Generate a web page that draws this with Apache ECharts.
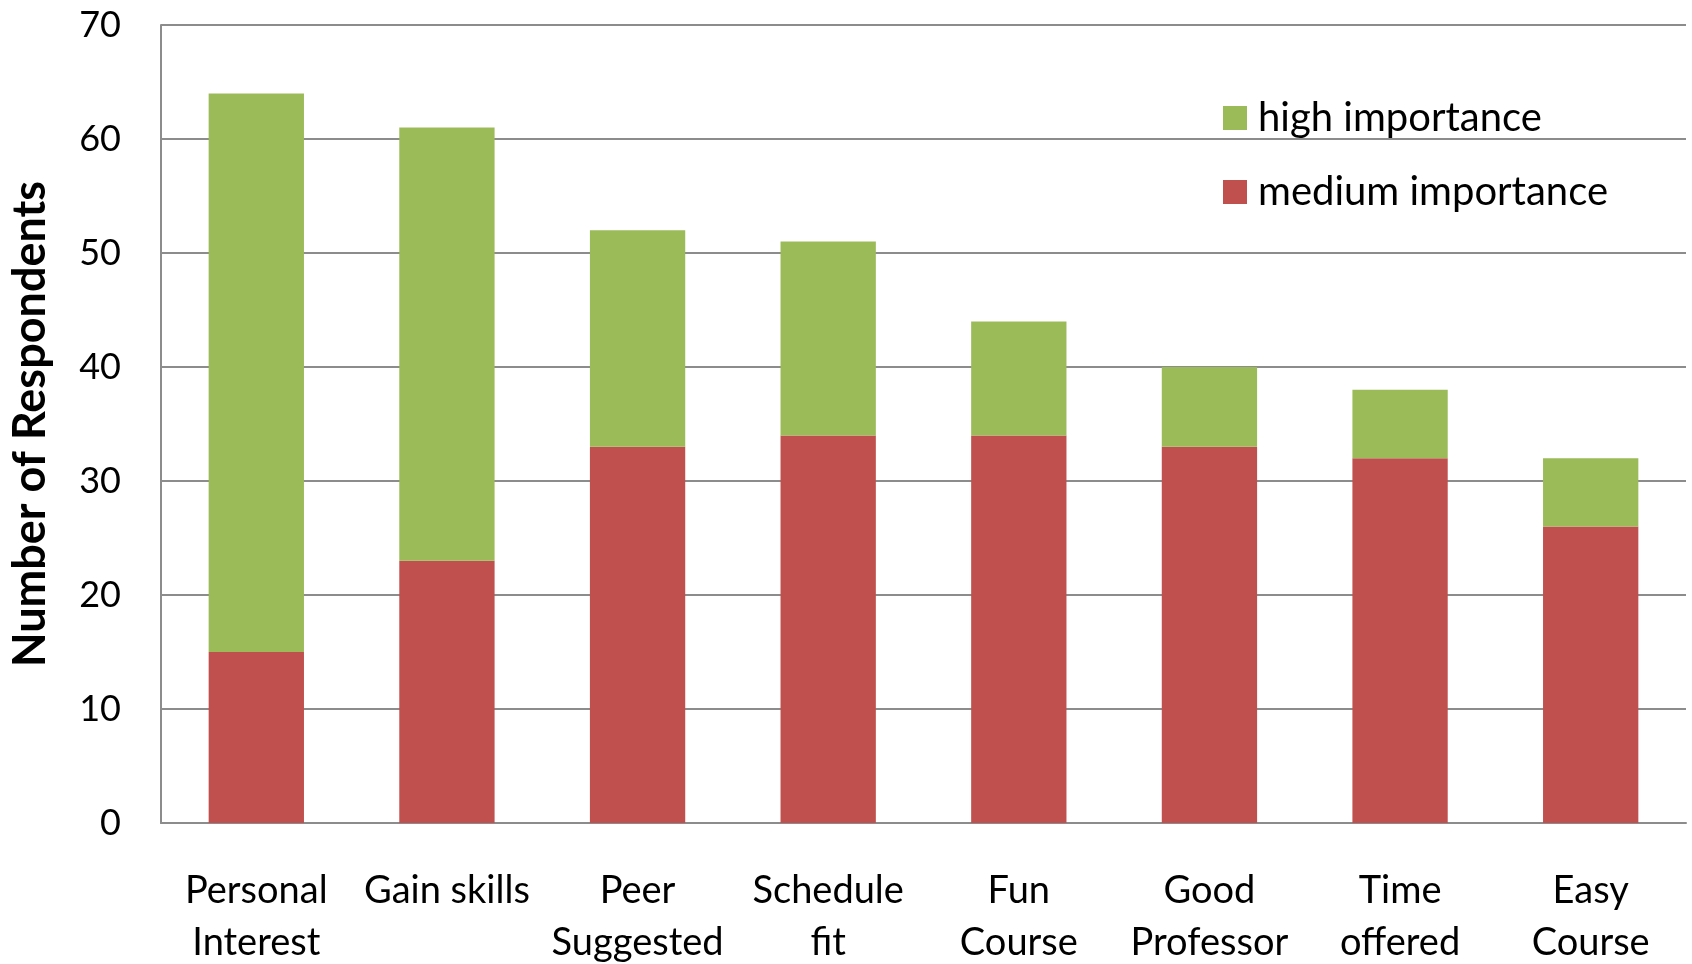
<!DOCTYPE html>
<html>
<head>
<meta charset="utf-8">
<script src="https://cdn.jsdelivr.net/npm/echarts@6/dist/echarts.min.js"></script>
<style>
html,body{margin:0;padding:0;background:#fff;}
#chart{width:1692px;height:964px;}
</style>
</head>
<body>
<div id="chart"></div>
<script>
const categories = ["Personal\nInterest", "Gain skills", "Peer\nSuggested", "Schedule\nfit", "Fun\nCourse", "Good\nProfessor", "Time\noffered", "Easy\nCourse"];
const mediumImportance = [15, 23, 33, 34, 34, 33, 32, 26];
const highImportance = [49, 38, 19, 17, 10, 7, 6, 6];
const yTicks = [0, 10, 20, 30, 40, 50, 60, 70];

const FONT = 'Lato';
const chart = echarts.init(document.getElementById('chart'), null, {renderer: 'canvas'});
chart.setOption({
  animation: false,
  backgroundColor: '#ffffff',
  grid: {left: 161, right: 6, top: 25, bottom: 141, containLabel: false, outerBoundsMode: 'none'},
  legend: {
    orient: 'vertical',
    left: 1218,
    top: 91,
    itemWidth: 24,
    itemHeight: 24,
    itemGap: 30,
    icon: 'rect',
    data: ['high importance', 'medium importance'],
    textStyle: {fontFamily: FONT, fontSize: 40, color: '#000', lineHeight: 44, padding: [0, 0, 0, 6]}
  },
  xAxis: {
    type: 'category',
    data: categories,
    axisLine: {show: true, lineStyle: {color: '#8c8c8c', width: 2}},
    axisTick: {show: false},
    axisLabel: {
      interval: 0,
      margin: 42,
      fontFamily: FONT,
      fontSize: 38,
      lineHeight: 52,
      color: '#000'
    }
  },
  yAxis: {
    type: 'value',
    min: yTicks[0],
    max: yTicks[yTicks.length - 1],
    interval: 10,
    name: 'Number of Respondents',
    nameLocation: 'middle',
    nameGap: 108,
    nameTextStyle: {fontFamily: FONT, fontSize: 45, fontWeight: 'bold', color: '#000'},
    axisLine: {show: true, lineStyle: {color: '#8c8c8c', width: 2}},
    axisTick: {show: false},
    axisLabel: {fontFamily: FONT, fontSize: 36, color: '#000', margin: 40},
    splitLine: {show: true, lineStyle: {color: '#8c8c8c', width: 2}}
  },
  series: [
    {
      name: 'medium importance',
      type: 'bar',
      stack: 'total',
      data: mediumImportance,
      barWidth: '50%',
      itemStyle: {color: '#C0504D'}
    },
    {
      name: 'high importance',
      type: 'bar',
      stack: 'total',
      data: highImportance,
      barWidth: '50%',
      itemStyle: {color: '#9BBB59'}
    }
  ]
});
</script>
</body>
</html>
